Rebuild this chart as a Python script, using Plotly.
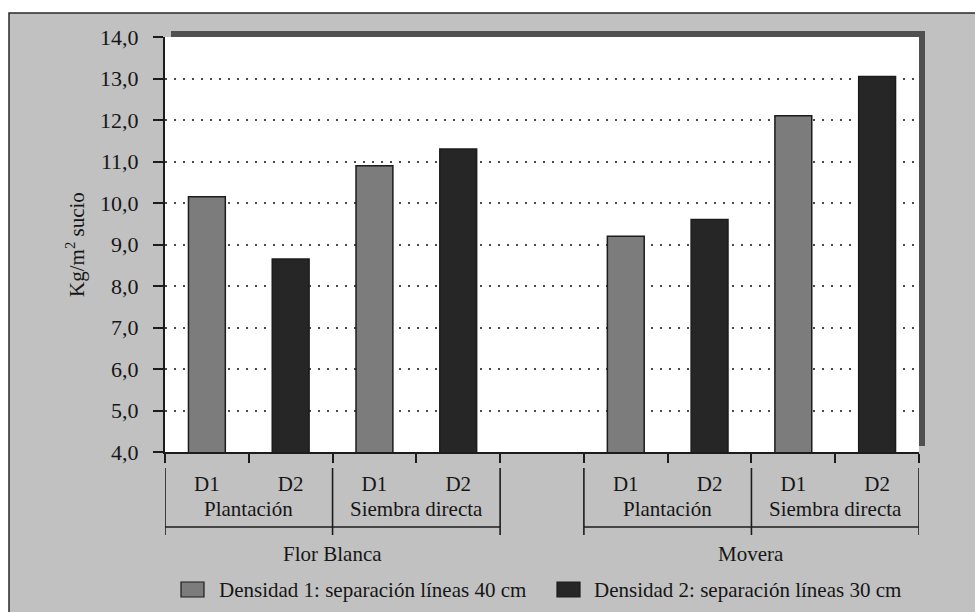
import plotly.graph_objects as go

# ---- data -------------------------------------------------------------
varieties = ["Flor Blanca", "Movera"]
methods = ["Plantación", "Siembra directa"]
densities = ["D1", "D2"]
series_names = [
    "Densidad 1: separación líneas 40 cm",
    "Densidad 2: separación líneas 30 cm",
]
# yield (kg/m² sucio) ordered: FB-Plantación, FB-Siembra, Movera-Plantación, Movera-Siembra
d1_values = [10.15, 10.9, 9.2, 12.1]
d2_values = [8.65, 11.3, 9.6, 13.05]
y_ticks = [4, 5, 6, 7, 8, 9, 10, 11, 12, 13, 14]

# ---- layout helpers -----------------------------------------------------
FONT = "Liberation Serif"
TXT = "#161616"
BG = "#c1c1c1"
C_D1 = "#7c7c7c"
C_D2 = "#262626"
EDGE = "#1c1c1c"
SHADOW = "#505050"

W, H = 975, 612
ML, MR, MT, MB = 165, 56, 37, 160
PW, PH = W - ML - MR, H - MT - MB


def px_x(px):
    return (px - ML) / PW


def px_y(py):
    return (H - MB - py) / PH


SLOTS_PER_VARIETY = len(methods) * len(densities) + 1  # one empty slot between varieties
n_slots = len(varieties) * SLOTS_PER_VARIETY - 1


def slot(v, m, d):
    return v * SLOTS_PER_VARIETY + m * len(densities) + d


x_d1, x_d2, y_d1, y_d2 = [], [], [], []
k = 0
for v in range(len(varieties)):
    for m in range(len(methods)):
        x_d1.append(slot(v, m, 0) + 0.5)
        x_d2.append(slot(v, m, 1) + 0.5)
        y_d1.append(d1_values[k])
        y_d2.append(d2_values[k])
        k += 1

fig = go.Figure()
for xs, ys, color, name in [(x_d1, y_d1, C_D1, series_names[0]),
                            (x_d2, y_d2, C_D2, series_names[1])]:
    fig.add_trace(go.Bar(
        x=xs, y=ys, width=0.44, name=name,
        marker=dict(color=color, line=dict(color=EDGE, width=1.5)),
        showlegend=False, hoverinfo="y",
    ))

centers = sorted(x_d1 + x_d2)
center_text = [densities[int(c) % SLOTS_PER_VARIETY % 2] for c in centers]

shapes = []
annotations = []

# white margin outside the framed panel, and the frame itself
shapes.append(dict(type="rect", xref="paper", yref="paper", layer="below",
                   x0=px_x(-5), x1=px_x(W + 5), y0=px_y(13), y1=px_y(-5),
                   fillcolor="white", line=dict(width=0)))
shapes.append(dict(type="rect", xref="paper", yref="paper", layer="below",
                   x0=px_x(-5), x1=px_x(9), y0=px_y(H + 5), y1=px_y(-5),
                   fillcolor="white", line=dict(width=0)))
shapes.append(dict(type="rect", xref="paper", yref="paper", layer="below",
                   x0=px_x(9), x1=px_x(W + 20), y0=px_y(H + 20), y1=px_y(13),
                   fillcolor="rgba(0,0,0,0)", line=dict(color="#2a2a2a", width=1.5)))

# raised-panel shadow along the top and right of the plotting area
shapes.append(dict(type="rect", xref="paper", yref="paper", layer="below",
                   x0=px_x(171), x1=px_x(925), y0=1.0, y1=px_y(31),
                   fillcolor=SHADOW, line=dict(width=0)))
shapes.append(dict(type="rect", xref="paper", yref="paper", layer="below",
                   x0=1.0, x1=px_x(925), y0=px_y(446), y1=px_y(31),
                   fillcolor=SHADOW, line=dict(width=0)))

# grouping brackets under the category axis
y_top, y_bot, y_bar = px_y(468), px_y(535), px_y(527)
for v, vname in enumerate(varieties):
    x0 = slot(v, 0, 0)
    x_end = slot(v, len(methods) - 1, len(densities) - 1) + 1
    for m in range(len(methods) + 1):
        xv = x0 + m * len(densities)
        shapes.append(dict(type="line", xref="x", yref="paper", x0=xv, x1=xv,
                           y0=y_top, y1=y_bot, line=dict(color=EDGE, width=1.6)))
    shapes.append(dict(type="line", xref="x", yref="paper", x0=x0, x1=x_end,
                       y0=y_bar, y1=y_bar, line=dict(color=EDGE, width=1.6)))
    for m, mname in enumerate(methods):
        annotations.append(dict(x=x0 + m * len(densities) + len(densities) / 2,
                                y=px_y(509), xref="x", yref="paper",
                                text=mname, showarrow=False, yanchor="middle",
                                font=dict(family=FONT, size=21, color=TXT)))
    annotations.append(dict(x=(x0 + x_end) / 2, y=px_y(554), xref="x", yref="paper",
                            text=vname, showarrow=False, yanchor="middle",
                            font=dict(family=FONT, size=21, color=TXT)))

# legend
for (sx, tx), color, name in [((181, 217), C_D1, series_names[0]),
                              ((557, 592), C_D2, series_names[1])]:
    shapes.append(dict(type="rect", xref="paper", yref="paper",
                       x0=px_x(sx), x1=px_x(sx + 23), y0=px_y(597), y1=px_y(582),
                       fillcolor=color, line=dict(color=EDGE, width=1.2)))
    annotations.append(dict(x=px_x(tx), y=px_y(590), xref="paper", yref="paper",
                            text=name, showarrow=False, xanchor="left", yanchor="middle",
                            font=dict(family=FONT, size=21, color=TXT)))

fig.update_layout(
    width=W, height=H,
    margin=dict(l=ML, r=MR, t=MT, b=MB, pad=0),
    paper_bgcolor=BG, plot_bgcolor="white",
    separators=",.",
    barmode="overlay",
    font=dict(family=FONT, size=21, color=TXT),
    shapes=shapes, annotations=annotations,
    showlegend=False,
)
fig.update_xaxes(
    range=[0, n_slots], tickvals=centers, ticktext=center_text, ticks="",
    showgrid=False, zeroline=False,
    showline=True, linecolor=EDGE, linewidth=2,
    tickfont=dict(family=FONT, size=21, color=TXT), ticklabelstandoff=12,
    minor=dict(tickvals=list(range(n_slots + 1)), ticks="outside", ticklen=9,
               tickwidth=2, tickcolor=EDGE, showgrid=False),
)
fig.update_yaxes(
    range=[4, 14], tickvals=y_ticks, tickformat=".1f",
    ticks="outside", ticklen=10, tickwidth=2, tickcolor=EDGE,
    ticklabelstandoff=10,
    showline=True, linecolor=EDGE, linewidth=2, zeroline=False,
    showgrid=True, gridcolor="#4a4a4a", gridwidth=2, griddash="2px,7px",
    tickfont=dict(family=FONT, size=22, color=TXT),
    title=dict(text="Kg/m<sup>2</sup> sucio", standoff=10,
               font=dict(family=FONT, size=21, color=TXT)),
)

fig.write_html("out.html")
